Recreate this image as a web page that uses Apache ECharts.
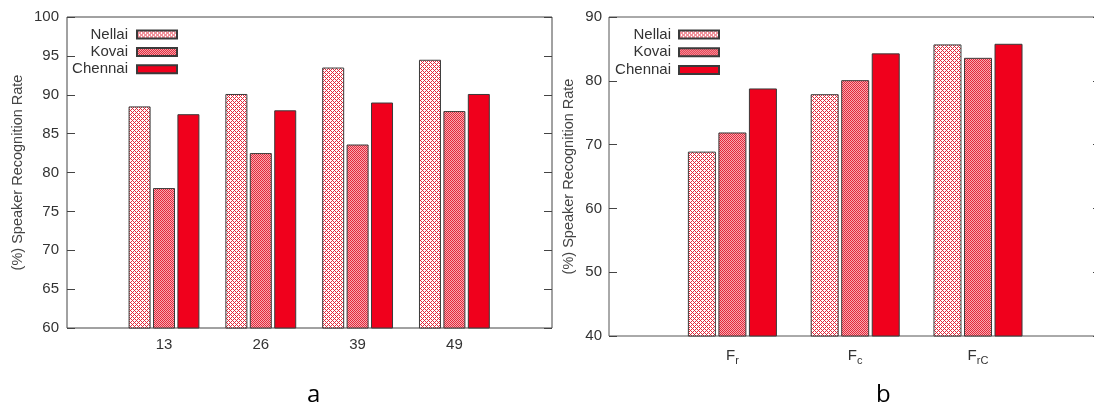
<!DOCTYPE html>
<html><head><meta charset="utf-8">
<script src="https://cdn.jsdelivr.net/npm/echarts@6/dist/echarts.min.js"></script>
<style>html,body{margin:0;padding:0;background:#fff}#c{width:1094px;height:408px}</style>
</head><body><div id="c"></div>
<script>
// ---- data ----
const seriesNames = ['Nellai', 'Kovai', 'Chennai'];
const catsA = ['13', '26', '39', '49'];
const nellaiA = [88.5, 90.1, 93.5, 94.5];
const kovaiA = [78.0, 82.5, 83.6, 87.9];
const chennaiA = [87.5, 88.0, 89.0, 90.1];
const yTitle = '(%) Speaker Recognition Rate';
const catsB = ['Fr', 'Fc', 'FrC'];
const nellaiB = [68.9, 77.9, 85.7];
const kovaiB = [71.9, 80.1, 83.6];
const chennaiB = [78.8, 84.3, 85.8];
const subA = 'a', subB = 'b';

// ---- patterns ----
function makePattern(size, fn) {
  const c = document.createElement('canvas');
  c.width = size; c.height = size;
  const g = c.getContext('2d');
  for (let y = 0; y < size; y++) for (let x = 0; x < size; x++) {
    g.fillStyle = fn(x, y); g.fillRect(x, y, 1, 1);
  }
  return c;
}
const red = '#e4283a';
const nellaiPat = makePattern(4, (x, y) => (((x + y) % 4 === 0) || ((x - y + 4) % 4 === 0)) ? red : '#ffffff');
const kovaiPat = makePattern(2, (x, y) => ((x + y) % 2 === 0) ? red : '#f7aab2');
const styles = [
  { color: { image: nellaiPat, repeat: 'repeat' }, borderColor: '#3a3a3a', borderWidth: 1 },
  { color: { image: kovaiPat, repeat: 'repeat' }, borderColor: '#3a3a3a', borderWidth: 1 },
  { color: '#f0001c', borderColor: '#3a3a3a', borderWidth: 1 }
];

const FONT = 'Liberation Sans';
const txt = '#333';

function frameY(gridIndex, min, max, interval, gap, margin) {
  return [{
    gridIndex, type: 'value', min, max, interval, position: 'left',
    axisLine: { show: false }, splitLine: { show: false },
    axisTick: { show: true, inside: true, length: 8, lineStyle: { color: '#444' } },
    axisLabel: { fontFamily: FONT, fontSize: 15, color: txt, margin },
    name: yTitle, nameLocation: 'middle', nameRotate: 90, nameGap: gap,
    nameTextStyle: { fontFamily: FONT, fontSize: 14.5, color: '#444' }
  }, {
    gridIndex, type: 'value', min, max, interval, position: 'right',
    axisLine: { show: false }, splitLine: { show: false },
    axisTick: { show: true, inside: true, length: 8, lineStyle: { color: '#444' } },
    axisLabel: { show: false }
  }];
}
function hiddenY(gridIndex, min, max) {
  return { gridIndex, type: 'value', min, max, show: false, splitLine: { show: false } };
}
function hiddenX(gridIndex) {
  return { gridIndex, type: 'value', min: 0, max: 1, show: false, splitLine: { show: false } };
}
function catX(gridIndex, data, rich) {
  return {
    gridIndex, type: 'category', data, boundaryGap: true,
    axisLine: { show: false }, axisTick: { show: false }, splitLine: { show: false },
    axisLabel: rich ? {
      fontFamily: FONT, fontSize: 15, color: txt, margin: 10,
      formatter: v => v[0] + '{s|' + v.slice(1) + '}',
      rich: { s: { fontFamily: FONT, fontSize: 11, color: txt, padding: [9, 0, 0, 0] } }
    } : { fontFamily: FONT, fontSize: 15, color: txt, margin: 9 }
  };
}

const gridA = { left: 67, top: 17, width: 485, height: 311 };
const gridB = { left: 609, top: 17, width: 492, height: 319 };

const legendBase = {
  orient: 'vertical', align: 'right', top: 27, itemWidth: 40, itemHeight: 8, itemGap: 2.4,
  padding: 0, icon: 'rect', data: seriesNames, selectedMode: false,
  textStyle: { fontFamily: FONT, fontSize: 15, color: txt, lineHeight: 14, padding: [0, 4, 0, 0] }
};

const option = {
  animation: false,
  grid: [
    Object.assign({ show: true, borderColor: '#444', borderWidth: 1, backgroundColor: 'transparent', outerBoundsMode: 'none', containLabel: false }, gridA),
    { left: 115.6, top: 17, width: 387.2, height: 311, outerBoundsMode: 'none', containLabel: false },
    Object.assign({ show: true, borderColor: '#555', borderWidth: 1, backgroundColor: 'transparent', outerBoundsMode: 'none', containLabel: false }, gridB),
    { left: 671, top: 17, width: 368.4, height: 319, outerBoundsMode: 'none', containLabel: false }
  ],
  xAxis: [hiddenX(0), catX(1, catsA, false), hiddenX(2), catX(3, catsB, true)],
  yAxis: [
    ...frameY(0, 60, 100, 5, 42, 8),
    hiddenY(1, 60, 100),
    ...frameY(2, 40, 90, 10, 33, 7),
    hiddenY(3, 40, 90)
  ],
  legend: [
    Object.assign({}, legendBase, { right: 916 }),
    Object.assign({}, legendBase, { right: 374, itemGap: 2.7, textStyle: Object.assign({}, legendBase.textStyle, { padding: [0, 3, 0, 0] }) })
  ],
  graphic: [
    { type: 'text', left: 307, top: 383, style: { text: subA, font: '24px "Open Sans"', fill: '#000' } },
    { type: 'text', left: 876, top: 383, style: { text: subB, font: '24px "Open Sans"', fill: '#000' } }
  ],
  series: []
};

const dataA = [nellaiA, kovaiA, chennaiA];
const dataB = [nellaiB, kovaiB, chennaiB];
seriesNames.forEach((n, i) => {
  option.series.push({
    name: n, type: 'bar', xAxisIndex: 1, yAxisIndex: 2, data: dataA[i],
    barWidth: 22, barGap: '11%', itemStyle: styles[i], emphasis: { disabled: true }
  });
});
seriesNames.forEach((n, i) => {
  option.series.push({
    name: n, type: 'bar', xAxisIndex: 3, yAxisIndex: 5, data: dataB[i],
    barWidth: 28, barGap: '9%', itemStyle: styles[i], emphasis: { disabled: true }
  });
});

const chart = echarts.init(document.getElementById('c'), null, { renderer: 'canvas' });
chart.setOption(option);
</script>
</body></html>
